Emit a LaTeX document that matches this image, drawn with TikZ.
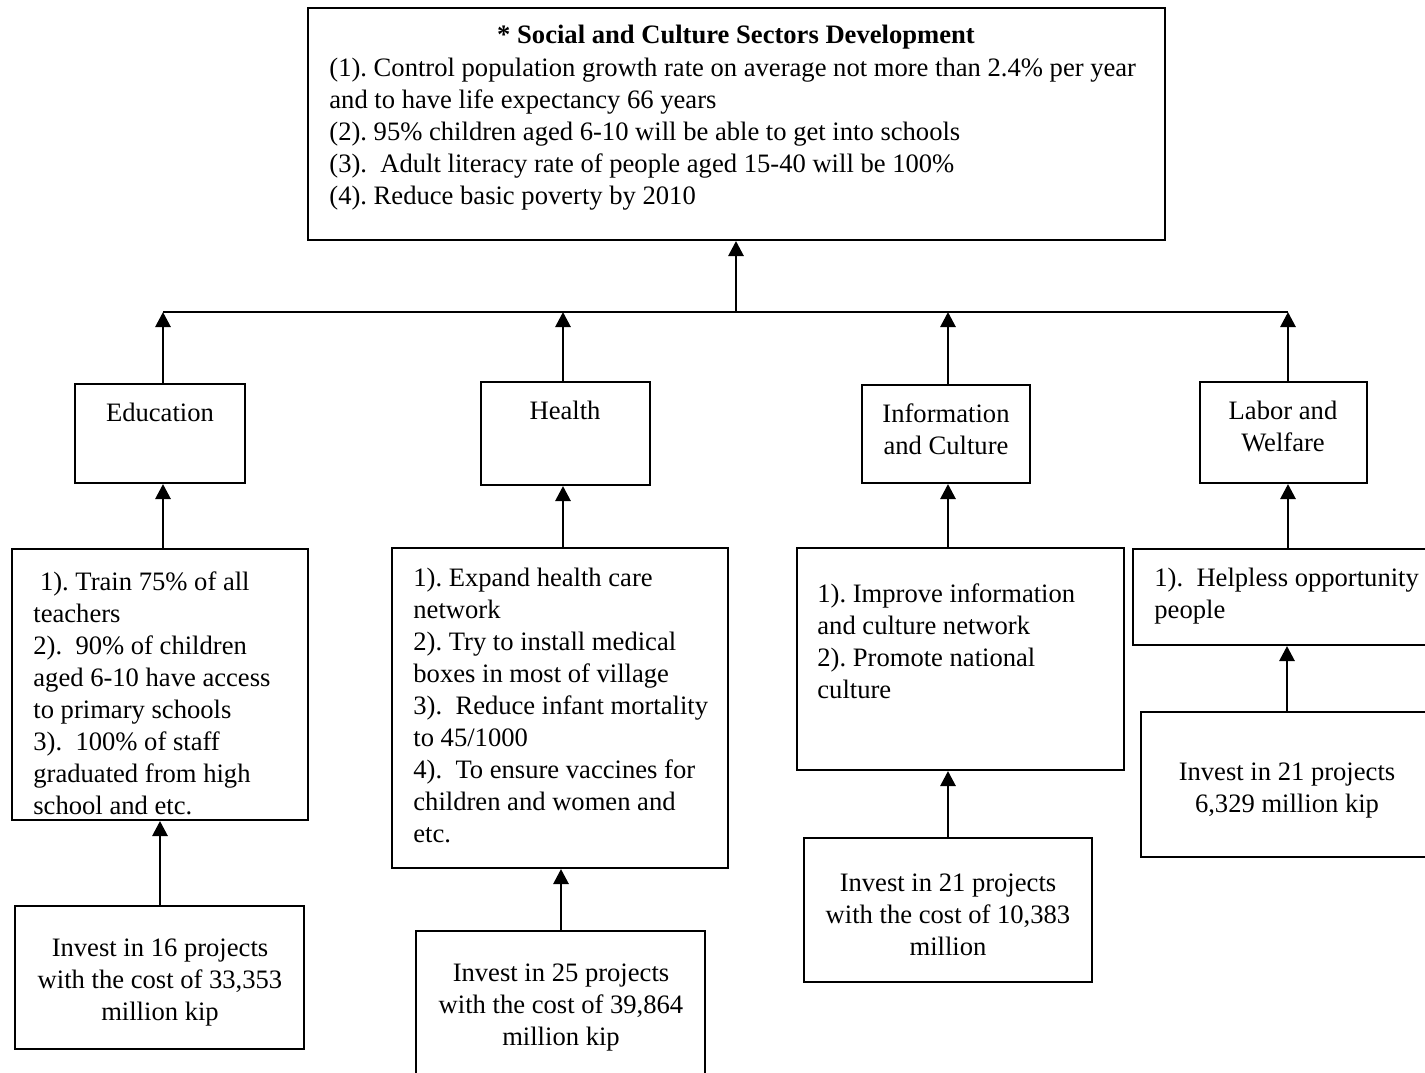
\documentclass[tikz,border=0pt]{standalone}
\usepackage{fontspec}
\setmainfont{Liberation Serif}
\usetikzlibrary{arrows.meta,fit}
\begin{document}
\frenchspacing
\begin{tikzpicture}[x=0.5pt,y=-0.5pt,
  box/.style={draw=black,line width=1pt,inner sep=0pt,fill=white},
  txt/.style={inner sep=0pt,font=\fontsize{13.3pt}{16pt}\selectfont},
  ltxt/.style={txt,align=left,anchor=west},
  ctxt/.style={txt,align=center,anchor=center},
  arr/.style={line width=1.4pt,-{Triangle[length=7.5pt,width=7.5pt]}},
  bus/.style={line width=1.1pt}]
\clip (0,0) rectangle (1425,1072);
\fill[white] (0,0) rectangle (1425,1072);

% goal box
\node[box,fit={(308,8) (1165,240)}] (top) {};
\node[txt,anchor=center,font=\fontsize{13.3pt}{16pt}\selectfont\bfseries] (title) at (736,37) {* Social and Culture Sectors Development};
\node[ltxt] (goals) at (329,134) {(1). Control population growth rate on average not more than 2.4\% per year\\
and to have life expectancy 66 years\\
(2). 95\% children aged 6-10 will be able to get into schools\\
(3).\ \ Adult literacy rate of people aged 15-40 will be 100\%\\
(4). Reduce basic poverty by 2010};

% collecting line
\coordinate (bt) at (736,312);
\coordinate (b1) at (163,312);
\coordinate (b2) at (563,312);
\coordinate (b3) at (948,312);
\coordinate (b4) at (1288,312);
\draw[bus] (b1) -- (b4);
\draw[arr] (bt) -- (top.south -| bt);

% sector boxes
\node[box,fit={(75,384) (245,483)}] (edu) {};
\node[box,fit={(481,382) (650,485)}] (hea) {};
\node[box,fit={(862,385) (1030,483)}] (inf) {};
\node[box,fit={(1200,382) (1367,483)}] (lab) {};
\node[ctxt] at (160,412) {Education};
\node[ctxt] at (565,410) {Health};
\node[ctxt] at (946,429) {Information\\and Culture};
\node[ctxt] at (1283,426.5) {Labor and\\Welfare};

\draw[arr] (edu.north -| b1) -- (b1);
\draw[arr] (hea.north -| b2) -- (b2);
\draw[arr] (inf.north -| b3) -- (b3);
\draw[arr] (lab.north -| b4) -- (b4);

% targets
\node[box,fit={(12,549) (308,820)}] (edu2) {};
\node[box,fit={(392,548) (728,868)}] (hea2) {};
\node[box,fit={(797,548) (1124,770)}] (inf2) {};
\node[box,fit={(1133,549) (1440,645)}] (lab2) {};
\node[ltxt] at (33,693) {\ 1). Train 75\% of all\\
teachers\\
2).\ \ 90\% of children\\
aged 6-10 have access\\
to primary schools\\
3).\ \ 100\% of staff\\
graduated from high\\
school and etc.};
\node[ltxt] at (413,705) {1). Expand health care\\
network\\
2). Try to install medical\\
boxes in most of village\\
3).\ \ Reduce infant mortality\\
to 45/1000\\
4).\ \ To ensure vaccines for\\
children and women and\\
etc.};
\node[ltxt] at (817,641) {1). Improve information\\
and culture network\\
2). Promote national\\
culture};
\node[ltxt] at (1154,596) {1).\ \ Helpless opportunity\\
people};

\draw[arr] (edu2.north -| b1) -- (edu.south -| b1);
\draw[arr] (hea2.north -| b2) -- (hea.south -| b2);
\draw[arr] (inf2.north -| b3) -- (inf.south -| b3);
\draw[arr] (lab2.north -| b4) -- (lab.south -| b4);

% investments
\node[box,fit={(15,906) (304,1049)}] (edu3) {};
\node[box,fit={(416,931) (705,1090)}] (hea3) {};
\node[box,fit={(804,838) (1092,982)}] (inf3) {};
\node[box,fit={(1141,712) (1440,857)}] (lab3) {};
\node[ctxt] at (160,983) {Invest in 16 projects\\with the cost of 33,353\\million kip};
\node[ctxt] at (561,1008) {Invest in 25 projects\\with the cost of 39,864\\million kip};
\node[ctxt] at (948,915) {Invest in 21 projects\\with the cost of 10,383\\million};
\node[ctxt] at (1287,791) {Invest in 21 projects\\6,329 million kip};

\coordinate (c1) at (160,0);
\coordinate (c2) at (561,0);
\coordinate (c3) at (948,0);
\coordinate (c4) at (1287,0);
\draw[arr] (edu3.north -| c1) -- (edu2.south -| c1);
\draw[arr] (hea3.north -| c2) -- (hea2.south -| c2);
\draw[arr] (inf3.north -| c3) -- (inf2.south -| c3);
\draw[arr] (lab3.north -| c4) -- (lab2.south -| c4);
\end{tikzpicture}
\end{document}
